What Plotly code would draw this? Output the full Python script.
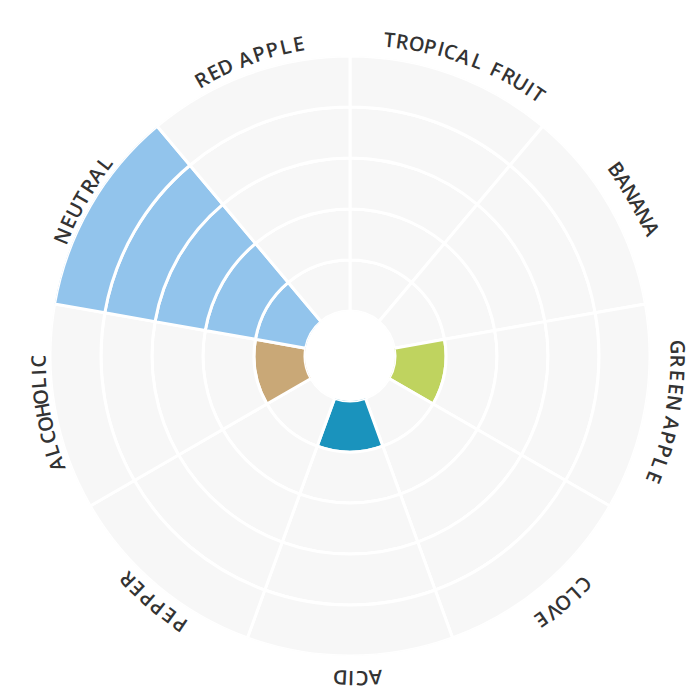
import math
import plotly.graph_objects as go

categories = ["TROPICAL FRUIT", "BANANA", "GREEN APPLE", "CLOVE", "ACID",
              "PEPPER", "ALCOHOLIC", "NEUTRAL", "RED APPLE"]
values = [0, 0, 1, 0, 1, 0, 1, 5, 0]
colors = ["#92c4ec", "#92c4ec", "#bfd35f", "#92c4ec", "#1a93bd",
          "#92c4ec", "#c9a877", "#92c4ec", "#92c4ec"]
levels = 5
bg = "#f7f7f7"

n = len(categories)
step = 360 / n
thetas = [step / 2 + i * step for i in range(n)]

fig = go.Figure()
for k in range(1, levels + 1):
    fig.add_trace(go.Barpolar(
        r=[1] * n, base=[k - 1] * n, theta=thetas, width=[step] * n,
        marker=dict(color=[c if v >= k else bg for c, v in zip(colors, values)],
                    line=dict(color="white", width=3)),
        hoverinfo="skip", showlegend=False))

ML, MR, MT, MB = 42, 58, 48, 52
W = 700 - ML - MR
H = 700 - MT - MB
R = 320
size = 20
def cw(ch):
    if ch == " ":
        return 0.35 * size
    if ch == "I":
        return 0.36 * size
    if ch in "MW":
        return 0.9 * size
    return 0.68 * size

annotations = []
for name, th in zip(categories, thetas):
    ws = [cw(c) + 0.3 for c in name]
    total = sum(ws)
    pos = -total / 2
    for ch, w in zip(name, ws):
        center = pos + w / 2
        pos += w
        a = th + math.degrees(center / R)
        if ch == " ":
            continue
        px = 350 + R * math.sin(math.radians(a))
        py = 350 - R * math.cos(math.radians(a))
        annotations.append(dict(
            x=(px - ML) / W, y=(700 - py - MB) / H, xref="paper", yref="paper",
            text=ch, showarrow=False, textangle=a, xanchor="center", yanchor="middle",
            font=dict(family="Open Sans", size=size, color="#333333", weight=600)))

fig.update_layout(
    width=700, height=700, margin=dict(l=ML, r=MR, t=MT, b=MB),
    paper_bgcolor="white", plot_bgcolor="white",
    barmode="overlay",
    polar=dict(
        bgcolor="white", hole=0.15,
        domain=dict(x=[0, 1], y=[0, 1]),
        radialaxis=dict(range=[0, levels], visible=False, showgrid=False),
        angularaxis=dict(rotation=90, direction="clockwise", visible=False,
                         showgrid=False, showline=False, showticklabels=False),
    ),
    annotations=annotations,
)
fig.write_html("out.html")
